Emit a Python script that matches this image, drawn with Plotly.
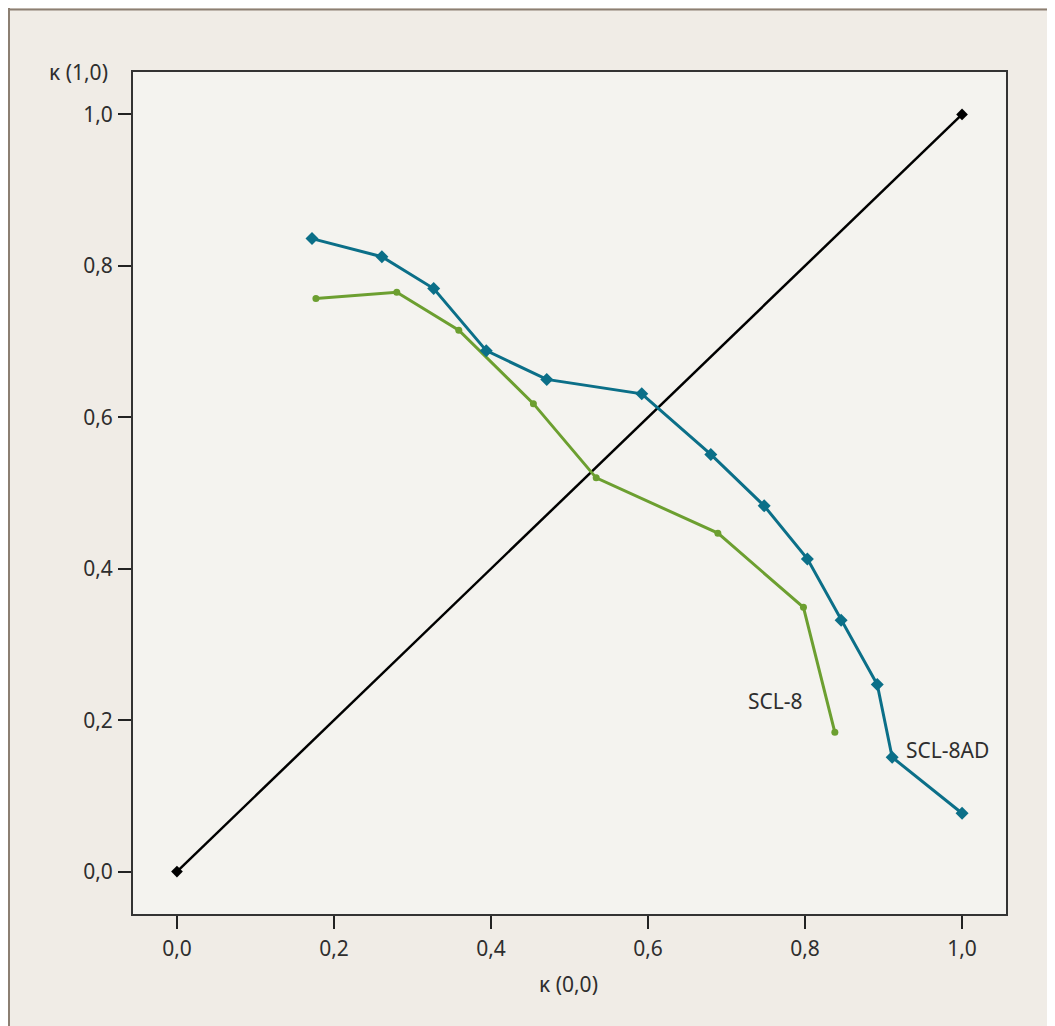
import plotly.graph_objects as go

# Data
scl8ad_x = [0.172, 0.261, 0.327, 0.394, 0.471, 0.592, 0.680, 0.748, 0.803, 0.846, 0.892, 0.911, 1.000]
scl8ad_y = [0.836, 0.812, 0.770, 0.688, 0.650, 0.631, 0.551, 0.483, 0.413, 0.332, 0.247, 0.151, 0.077]
scl8_x = [0.177, 0.280, 0.359, 0.454, 0.534, 0.689, 0.798, 0.838]
scl8_y = [0.757, 0.765, 0.715, 0.618, 0.520, 0.447, 0.349, 0.184]
diag_x = [0.0, 1.0]
diag_y = [0.0, 1.0]
tick_vals = [0.0, 0.2, 0.4, 0.6, 0.8, 1.0]
tick_text = ["0,0", "0,2", "0,4", "0,6", "0,8", "1,0"]

BLUE = "#0b6f88"
GREEN = "#6c9f30"
TXT = "#2e2e2e"
FONT = "Noto Sans"
FS = 21

fig = go.Figure()
fig.add_trace(go.Scatter(x=diag_x, y=diag_y, mode="lines+markers",
                         line=dict(color="black", width=2.5),
                         marker=dict(symbol="diamond", size=9, color="black"),
                         showlegend=False, hoverinfo="skip"))
fig.add_trace(go.Scatter(x=scl8_x, y=scl8_y, mode="lines+markers", name="SCL-8",
                         line=dict(color=GREEN, width=3),
                         marker=dict(symbol="circle", size=7, color=GREEN),
                         showlegend=False))
fig.add_trace(go.Scatter(x=scl8ad_x, y=scl8ad_y, mode="lines+markers", name="SCL-8AD",
                         line=dict(color=BLUE, width=3),
                         marker=dict(symbol="diamond", size=10, color=BLUE),
                         showlegend=False))

# page offset of the figure (body margin)
OFF = 8
W, H = 1055 - OFF, 1026 - OFF
L, R, T, B = 133 - OFF, 1055 - 1006, 72 - OFF, 1026 - 914
pw, ph = W - L - R, H - T - B

def px(x):
    # page x -> paper x
    return (x - OFF - L) / pw

def py(y):
    # page y -> paper y
    return (H - B - (y - OFF)) / ph

axis_common = dict(range=[-0.056, 1.056], showgrid=False, zeroline=False,
                   showline=True, linecolor="#333333", linewidth=2, mirror=True,
                   ticks="outside", ticklen=13, tickwidth=1.5, tickcolor="#222222",
                   tickvals=tick_vals, ticktext=tick_text,
                   tickfont=dict(family=FONT, size=FS, color=TXT))

fig.update_layout(
    width=W, height=H,
    margin=dict(l=L, r=R, t=T, b=B),
    paper_bgcolor="#f0ece6",
    plot_bgcolor="#f4f3ef",
    xaxis=dict(**axis_common, ticklabelstandoff=2),
    yaxis=dict(**axis_common, ticklabelstandoff=1),
    font=dict(family=FONT, color=TXT),
    shapes=[
        dict(type="line", xref="paper", yref="paper", x0=px(7), x1=px(1060), y0=py(9.5), y1=py(9.5),
             line=dict(color="#8c7f72", width=2)),
        dict(type="line", xref="paper", yref="paper", x0=px(9), x1=px(9), y0=py(8), y1=py(1030),
             line=dict(color="#8c7f72", width=2)),
    ],
    annotations=[
        dict(text="κ (1,0)", xref="paper", yref="paper", x=px(78), y=py(72), showarrow=False,
             xanchor="center", yanchor="middle", font=dict(family=FONT, size=FS, color=TXT)),
        dict(text="κ (0,0)", xref="paper", yref="paper", x=px(568), y=py(984), showarrow=False,
             xanchor="center", yanchor="middle", font=dict(family=FONT, size=FS, color=TXT)),
        dict(text="SCL-8", xref="x", yref="y", x=0.763, y=0.225, showarrow=False,
             xanchor="center", yanchor="middle", font=dict(family=FONT, size=FS, color=TXT)),
        dict(text="SCL-8AD", xref="x", yref="y", x=0.981, y=0.160, showarrow=False,
             xanchor="center", yanchor="middle", font=dict(family=FONT, size=FS, color=TXT)),
    ],
)

fig.write_html("out.html")
